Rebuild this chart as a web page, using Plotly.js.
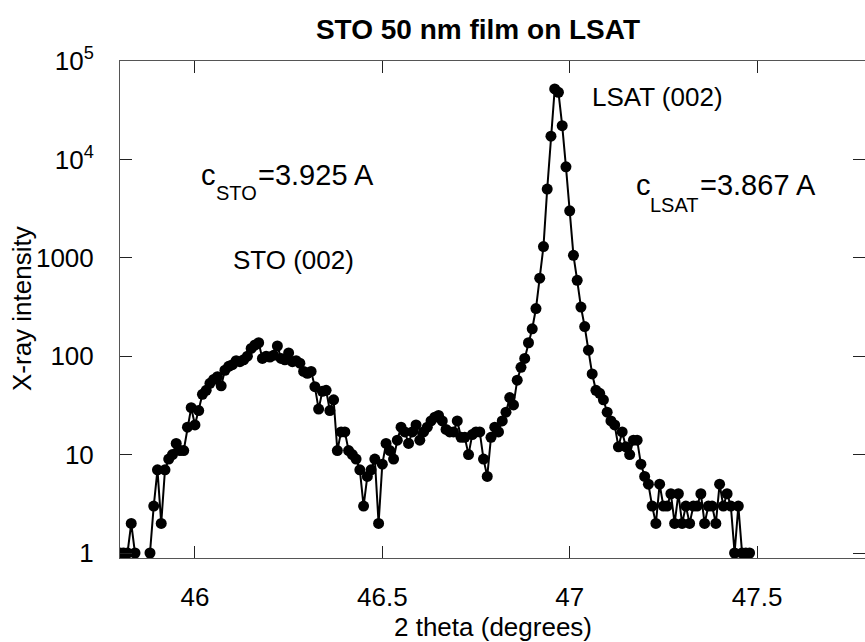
<!DOCTYPE html>
<html>
<head>
<meta charset="utf-8">
<script src="https://cdn.plot.ly/plotly-3.0.1.min.js"></script>
<style>html,body{margin:0;padding:0;background:#fff;}#chart{width:865px;height:642px;}</style>
</head>
<body>
<div id="chart"></div>
<script>
// 2-theta scan positions (degrees)
var twoTheta = [
45.80,45.81,45.82,45.83,45.84,45.85,45.86,45.87,45.88,45.89,
45.90,45.91,45.92,45.93,45.94,45.95,45.96,45.97,45.98,45.99,
46.00,46.01,46.02,46.03,46.04,46.05,46.06,46.07,46.08,46.09,
46.10,46.11,46.12,46.13,46.14,46.15,46.16,46.17,46.18,46.19,
46.20,46.21,46.22,46.23,46.24,46.25,46.26,46.27,46.28,46.29,
46.30,46.31,46.32,46.33,46.34,46.35,46.36,46.37,46.38,46.39,
46.40,46.41,46.42,46.43,46.44,46.45,46.46,46.47,46.48,46.49,
46.50,46.51,46.52,46.53,46.54,46.55,46.56,46.57,46.58,46.59,
46.60,46.61,46.62,46.63,46.64,46.65,46.66,46.67,46.68,46.69,
46.70,46.71,46.72,46.73,46.74,46.75,46.76,46.77,46.78,46.79,
46.80,46.81,46.82,46.83,46.84,46.85,46.86,46.87,46.88,46.89,
46.90,46.91,46.92,46.93,46.94,46.95,46.96,46.97,46.98,46.99,
47.00,47.01,47.02,47.03,47.04,47.05,47.06,47.07,47.08,47.09,
47.10,47.11,47.12,47.13,47.14,47.15,47.16,47.17,47.18,47.19,
47.20,47.21,47.22,47.23,47.24,47.25,47.26,47.27,47.28,47.29,
47.30,47.31,47.32,47.33,47.34,47.35,47.36,47.37,47.38,47.39,
47.40,47.41,47.42,47.43,47.44,47.45,47.46,47.47,47.48
];
// X-ray intensity (counts)
var intensity = [
1,1,1,2,1,0,0,0,1,3,
7,2,7,9,10,13,11,11,19,30,
20,28,41,45,53,58,62,50,72,79,
82,90,88,92,100,120,130,137,95,100,
98,102,127,95,92,108,88,90,85,70,
67,70,49,29,44,45,28,36,11,17,
17,11,10,9,7,3,6,7,9,2,
8,13,11,9,14,19,17,13,17,20,
14,17,19,22,24,25,22,18,17,17,
22,15,15,10,16,17,17,9,6,15,
19,17,22,27,38,32,57,77,95,137,
190,305,620,1300,5000,17200,52000,48000,22000,8400,
3000,1060,590,316,200,115,66,45,42,36,
27,22,20,12,17,12,10,14,14,8,
6,5,3,2,5,3,3,4,2,4,
2,3,2,3,3,4,2,3,3,2,
5,3,4,3,1,3,1,1,1
];
var xTickVals = [46, 46.5, 47, 47.5];
var xTickText = ['46', '46.5', '47', '47.5'];
var yTickVals = [1, 10, 100, 1000, 10000, 100000];
var yTickText = ['1', '10', '100', '1000', '10<sup>4</sup>', '10<sup>5</sup>'];

var FONT = 'Liberation Sans, Arial, Helvetica, sans-serif';
var W = 865, H = 642, L = 120, R = 0, T = 61, B = 84;
var plotW = W - L - R, plotH = H - T - B;
function px(x) { return (x - L) / plotW; }
function py(y) { return (H - B - y) / plotH; }

function label(text, x, y, size, anchor) {
  return {text: text, xref: 'paper', yref: 'paper', x: px(x), y: py(y),
          xanchor: anchor || 'left', yanchor: 'middle', showarrow: false,
          borderpad: 0, borderwidth: 0,
          font: {family: FONT, size: size, color: '#000'}};
}

var trace = {
  x: twoTheta, y: intensity, type: 'scatter', mode: 'lines+markers',
  line: {color: '#000', width: 2},
  marker: {color: '#000', size: 11, symbol: 'circle'},
  hoverinfo: 'x+y'
};

var layout = {
  width: W, height: H,
  margin: {l: L, r: R, t: T, b: B, pad: 0},
  paper_bgcolor: '#fff', plot_bgcolor: '#fff',
  showlegend: false,
  font: {family: FONT, size: 26, color: '#000'},
  title: {text: '<b>STO 50 nm film on LSAT</b>', font: {family: FONT, size: 28, color: '#000'},
          xref: 'container', yref: 'container', x: 478 / W, y: 1 - 29 / H,
          xanchor: 'center', yanchor: 'middle'},
  xaxis: {
    range: [45.8, 47.788], tickvals: xTickVals, ticktext: xTickText,
    ticks: 'inside', ticklen: 12, tickwidth: 1, tickcolor: '#222',
    showline: true, linecolor: '#555', linewidth: 1, mirror: 'ticks',
    showgrid: false, zeroline: false, ticklabelstandoff: 16,
    tickfont: {family: FONT, size: 26, color: '#000'}
  },
  yaxis: {
    type: 'log', range: [-0.0508, 5], tickvals: yTickVals, ticktext: yTickText,
    ticks: 'inside', ticklen: 12, tickwidth: 1, tickcolor: '#222',
    showline: true, linecolor: '#555', linewidth: 1, mirror: 'ticks',
    showgrid: false, zeroline: false, ticklabelstandoff: 20,
    tickfont: {family: FONT, size: 26, color: '#000'}
  },
  annotations: [
    label('2 theta (degrees)', 493, 627, 26, 'center'),
    Object.assign(label('X-ray intensity', 22, 309, 26, 'center'), {textangle: -90}),
    label('STO (002)', 293, 260, 26, 'center'),
    label('LSAT (002)', 657, 96.6, 26, 'center'),
    label('c', 201, 175, 29),
    label('STO', 215.7, 193, 20),
    label('=3.925 A', 257.6, 175, 29),
    label('c', 636, 185, 29),
    label('LSAT', 649.5, 205, 20),
    label('=3.867 A', 700, 185, 29)
  ]
};

Plotly.newPlot('chart', [trace], layout, {staticPlot: true, displayModeBar: false});
</script>
</body>
</html>
